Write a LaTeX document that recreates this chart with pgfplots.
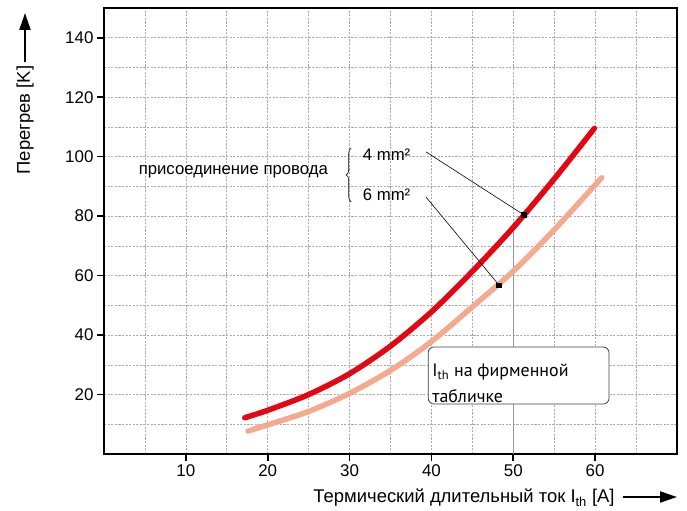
\documentclass[border=0pt]{standalone}
\usepackage{fontspec}
\setmainfont{Liberation Sans}
\newfontfamily\boxfont{PT Sans}
\usepackage{pgfplots}
\pgfplotsset{compat=1.18}
\usetikzlibrary{arrows.meta, decorations.pathreplacing}

\definecolor{curvered}{RGB}{227,6,19}
\definecolor{curvesalmon}{RGB}{243,170,142}
\definecolor{gridgray}{RGB}{172,172,172}
\definecolor{markgray}{RGB}{150,150,158}

\begin{document}
\begin{tikzpicture}
\begin{axis}[
  at={(0,0)}, anchor=south west,
  scale only axis, width=573bp, height=446bp,
  xmin=0, xmax=70, ymin=0, ymax=150,
  xtick={10,20,...,60}, ytick={20,40,...,140},
  minor xtick={5,15,...,65}, minor ytick={10,30,...,130},
  grid=both,
  major grid style={gridgray, line width=0.6pt, dash pattern=on 2.2pt off 1.4pt},
  minor grid style={gridgray, line width=0.6pt, dash pattern=on 2.2pt off 1.4pt},
  tick align=outside, major tick length=7bp, minor tick length=0pt,
  xtick pos=left, ytick pos=left,
  axis line style={line width=2pt},
  tick style={black, line width=1.6pt},
  tick label style={font=\fontsize{17}{20}\selectfont},
  /pgf/number format/assume math mode=true,
  clip=false,
]
% rated current marker
\addplot[markgray, line width=1.5bp] coordinates {(50,0) (50,76)};

% 6 mm^2 conductor
\addplot[curvesalmon, line width=5.5bp, line cap=round, smooth] coordinates {
  (17.6,7.7) (20,9.8) (25,14.3) (30,20.4) (35,28.1) (40,37.8)
  (45,49.5) (50,61.5) (55,75.4) (60,90.5) (60.8,92.9)};

% 4 mm^2 conductor
\addplot[curvered, line width=5.5bp, line cap=round, smooth] coordinates {
  (17.2,12.2) (20,14.7) (25,20.0) (30,27.0) (35,36.3) (40,47.8)
  (45,61.4) (50,76.2) (55,92.5) (59.9,109.5)};

% leader lines
\addplot[black, line width=0.6pt, mark=square*, mark size=2.2bp, mark indices={2}]
  coordinates {(39.34,101.6) (51.3,80.4)};
\addplot[black, line width=0.6pt, mark=square*, mark size=2.2bp, mark indices={2}]
  coordinates {(39.34,86.4) (48.25,56.8)};

\draw[decorate, decoration={brace, amplitude=5bp}, line width=0.6pt]
  (axis cs:30.2,84.8) -- (axis cs:30.2,102.9);
\node[inner sep=0, font=\fontsize{16.8}{20}\selectfont] at (axis cs:15.8,94.8) {присоединение провода};
\node[anchor=west, inner sep=0, font=\fontsize{16.8}{20}\selectfont] at (axis cs:31.6,100.8) {4 mm²};
\node[anchor=west, inner sep=0, font=\fontsize{16.8}{20}\selectfont] at (axis cs:31.6,87.1) {6 mm²};

\draw[black!75, line width=0.8pt, rounded corners=6bp, fill=white]
  (axis cs:39.6,16.8) rectangle (axis cs:61.7,36.0);
\node[anchor=base west, inner sep=0, font=\boxfont\fontsize{18}{20}\selectfont]
  at (axis cs:40.1,26.0) {I\textsubscript{th} на фирменной};
\node[anchor=base west, inner sep=0, font=\boxfont\fontsize{18}{20}\selectfont]
  at (axis cs:40.1,17.25) {табличке};
\end{axis}

\node[rotate=90, font=\fontsize{18.5}{22}\selectfont] at (-79bp,334bp) {Перегрев [K]};
\draw[line width=2bp, -{Triangle[length=17bp,width=11bp]}] (-79bp,392bp) -- (-79bp,441bp);
\node[font=\fontsize{18.5}{22}\selectfont] at (360bp,-44bp) {Термический длительный ток I\textsubscript{th} [A]};
\draw[line width=2bp, -{Triangle[length=17bp,width=11bp]}] (519bp,-43bp) -- (573bp,-43bp);

\pgfresetboundingbox
\path (-104bp,-57bp) rectangle (583bp,454bp);
\end{tikzpicture}
\end{document}
